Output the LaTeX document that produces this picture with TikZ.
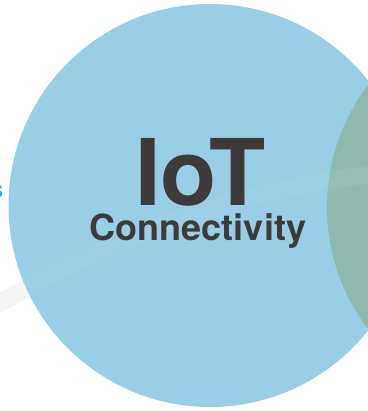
\documentclass[tikz,border=0pt]{standalone}
\usepackage{fontspec}
\setmainfont{TeX Gyre Heros}
\usepackage{xcolor}
\usepackage{tikz}
\usetikzlibrary{positioning}

\definecolor{iotblue}{HTML}{93CBE5}
\definecolor{iotgreen}{HTML}{8FB9AE}
\definecolor{iottext}{HTML}{3E3A39}
\definecolor{iotcyan}{HTML}{2AA9E0}
\definecolor{iotband}{HTML}{F5F5F3}

\begin{document}
\begin{tikzpicture}[x=1pt, y=-1pt, band/.style={line width=18pt, line cap=butt}, title/.style={text=iottext, font=\bfseries, inner sep=0pt, anchor=base}]
\useasboundingbox (0,0) rectangle (367,411);

% --- faint sweep behind the circle ---
\draw[band, iotband] (-30,320) .. controls (100,245) and (230,185) .. (400,172);

% --- main circle ---
\fill[iotblue, fill opacity=0.95] (210,205.5) circle (201.5);

% --- overlap with the neighbouring circle ---
\begin{scope}
\clip (210,205.5) circle (201.5);
\fill[iotgreen] (528.5,207) circle (201.5);
\draw[band, white, opacity=0.06] (-30,320) .. controls (100,245) and (230,185) .. (400,172);
\end{scope}

% --- labels ---
\node[title, text depth=0pt, font=\bfseries\fontsize{92}{92}\selectfont] (iot) at (200.5,205) {IoT};
\node[title, text height=27pt, font=\bfseries\fontsize{36}{36}\selectfont] (conn) at (198,240) {Connectivity};
\node[text=iotcyan, font=\fontsize{23}{23}\selectfont, inner sep=0pt, anchor=base east] (edge) at (3.5,197.5) {s};
\end{tikzpicture}
\end{document}
